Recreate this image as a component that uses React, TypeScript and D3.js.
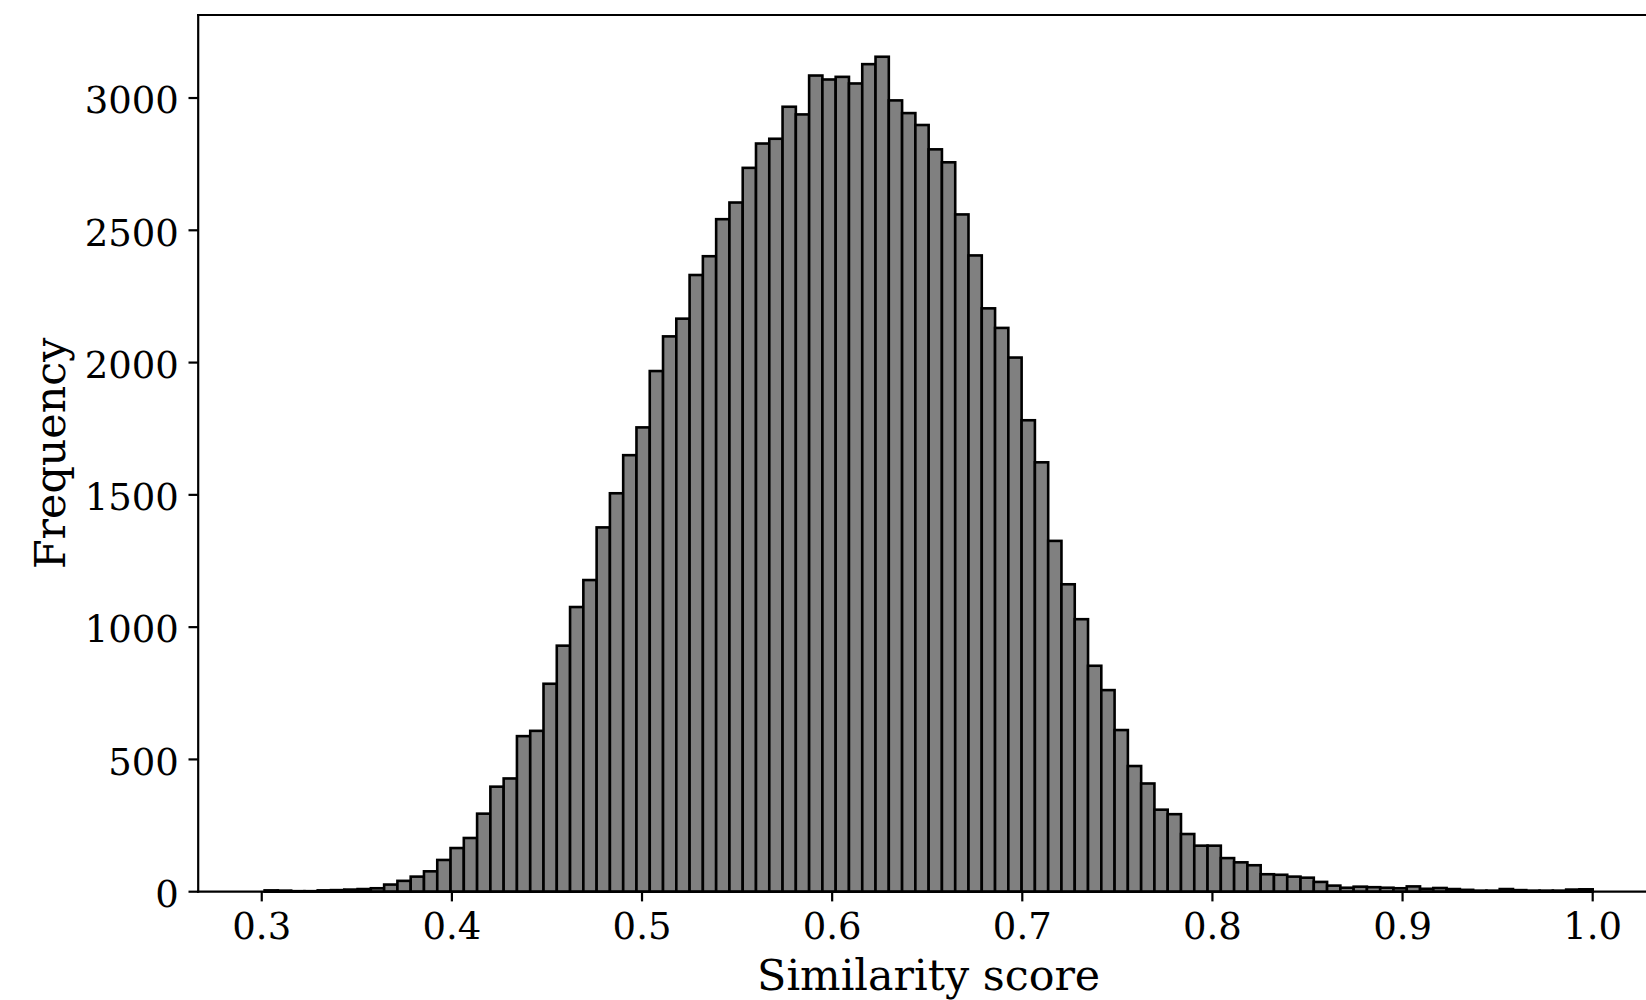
import React from 'react';
import * as d3 from 'd3';

const binStart = 0.3015;
const binEnd = 1.0;
const counts = [
  5, 4, 2, 2, 5, 6, 8, 10, 13, 27,
  41, 57, 77, 120, 165, 203, 295, 397, 428, 588,
  608, 786, 930, 1076, 1178, 1377, 1506, 1650, 1755, 1968,
  2099, 2166, 2331, 2402, 2542, 2605, 2736, 2828, 2846, 2967,
  2938, 3085, 3070, 3080, 3055, 3128, 3156, 2991, 2943, 2898,
  2806, 2757, 2560, 2405, 2205, 2131, 2019, 1782, 1623, 1326,
  1162, 1030, 854, 762, 611, 475, 409, 310, 293, 218,
  174, 174, 127, 111, 100, 66, 64, 57, 53, 37,
  23, 15, 19, 17, 15, 13, 20, 11, 14, 10,
  7, 4, 4, 10, 6, 4, 4, 4, 8, 9,
];
const xTicks = [0.3, 0.4, 0.5, 0.6, 0.7, 0.8, 0.9, 1.0];
const xTickLabels = ['0.3', '0.4', '0.5', '0.6', '0.7', '0.8', '0.9', '1.0'];
const yTicks = [0, 500, 1000, 1500, 2000, 2500, 3000];
const yTickLabels = ['0', '500', '1000', '1500', '2000', '2500', '3000'];
const xLabel = 'Similarity score';
const yLabel = 'Frequency';

export default function App() {
  const W = 1646;
  const H = 1000;
  const left = 198.2;
  const right = 1659.1;
  const top = 15;
  const bottom = 891.7;
  const n = counts.length;
  const span = binEnd - binStart;
  const binW = span / n;
  const x = d3.scaleLinear().domain([binStart - 0.05 * span, binEnd + 0.05 * span]).range([left, right]);
  const yMax = (d3.max(counts) as number) * 1.05;
  const y = d3.scaleLinear().domain([0, yMax]).range([bottom, top]);
  const font = '"DejaVu Serif", serif';
  const tickLen = 9.7;
  const tickFs = 37;
  const labelFs = 42.8;

  return (
    <svg width={W} height={H} style={{ position: 'absolute', left: 0, top: 0, background: '#fff' }}>
      <rect x={0} y={0} width={W} height={H} fill="#fff" />
      <g>
        {counts.map((c, i) => {
          const x0 = x(binStart + i * binW);
          const x1 = x(binStart + (i + 1) * binW);
          return (
            <rect key={i} x={x0} y={y(c)} width={x1 - x0} height={y(0) - y(c)}
              fill="#808080" stroke="#000" strokeWidth={2.6} />
          );
        })}
      </g>
      <g stroke="#000" strokeWidth={2.2} fill="none" strokeLinecap="square">
        <line x1={left} y1={top} x2={left} y2={bottom} />
        <line x1={right} y1={top} x2={right} y2={bottom} />
        <line x1={left} y1={top} x2={right} y2={top} />
        <line x1={left} y1={bottom} x2={right} y2={bottom} />
      </g>
      <g>
        {xTicks.map((t, i) => (
          <g key={i}>
            <line x1={x(t)} x2={x(t)} y1={bottom} y2={bottom + tickLen} stroke="#000" strokeWidth={2.2} />
            <text x={x(t)} y={939} textAnchor="middle" fontFamily={font} fontSize={tickFs} fill="#000">{xTickLabels[i]}</text>
          </g>
        ))}
      </g>
      <g>
        {yTicks.map((t, i) => (
          <g key={i}>
            <line x1={left - tickLen} x2={left} y1={y(t)} y2={y(t)} stroke="#000" strokeWidth={2.2} />
            <text x={left - tickLen - 9.7} y={y(t) + 15.3} textAnchor="end" fontFamily={font} fontSize={tickFs} fill="#000">{yTickLabels[i]}</text>
          </g>
        ))}
      </g>
      <text x={(left + right) / 2} y={990} textAnchor="middle" fontFamily={font} fontSize={labelFs} fill="#000">{xLabel}</text>
      <text transform={`translate(64.5, ${(top + bottom) / 2}) rotate(-90)`} textAnchor="middle" fontFamily={font} fontSize={labelFs} fill="#000">{yLabel}</text>
    </svg>
  );
}
